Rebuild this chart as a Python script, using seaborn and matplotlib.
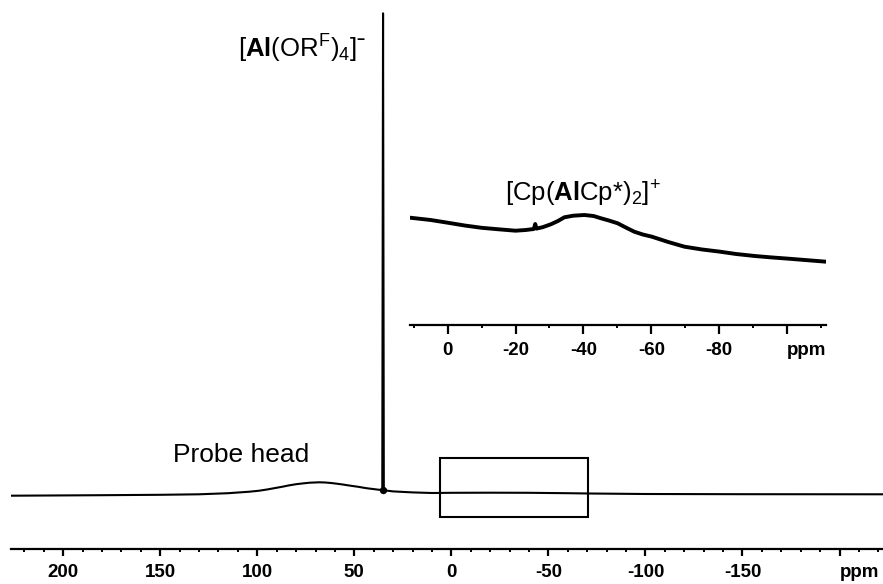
import matplotlib
matplotlib.use("Agg")
import matplotlib.pyplot as plt
import pandas as pd
import seaborn as sns
from matplotlib.patches import Rectangle

# 27Al NMR spectrum (ppm vs. intensity, arbitrary units)
main_ppm = [226.9, 180, 150, 130, 115, 104, 99, 95, 91, 87, 84, 80, 76, 73, 68, 65,
            62, 59, 56, 52, 48, 45, 43, 40, 38, 36, 35.6, 35.2, 34.8, 34.4, 30, 20,
            10, 0, -20, -40, -60, -71, -100, -150, -222.4]
main_intensity = [-1.7, -1.2, -0.8, -0.3, 0.8, 2.3, 3.3, 4.5, 5.9, 7.3, 8.5, 9.8, 10.7,
                  11.3, 11.7, 11.5, 11.0, 10.3, 9.5, 8.3, 7.2, 6.2, 5.6, 4.9, 4.4, 4.0,
                  3.9, 480.7, 3.8, 3.6, 2.6, 1.6, 1.0, 1.2, 1.3, 1.2, 0.8, 0.5, 0.0,
                  -0.2, -0.3]
peak_ppm = 35.2
peak_base = 3.8

# Expanded region around the cation signal
inset_ppm = [11.1, 5, 0, -5, -10, -15, -20, -23, -25.4, -25.8, -26.2, -28, -30.4,
             -32.5, -34.4, -37, -40.3, -43, -45.2, -47.5, -50.1, -52.5, -55, -57.5,
             -60.2, -65, -69.8, -75, -80.3, -85, -90.5, -95, -100.5, -106, -111.5]
inset_intensity = [107.3, 105.0, 102.3, 99.5, 97.2, 95.7, 94.3, 95.0, 96.0, 101.0,
                   96.4, 97.8, 100.7, 104.0, 107.7, 109.3, 110.0, 109.0, 106.7, 104.5,
                   101.7, 97.5, 93.3, 90.5, 88.3, 83.0, 78.3, 75.5, 73.3, 71.0, 69.0,
                   67.7, 66.3, 64.8, 63.3]

# Zoom window marked on the full spectrum
box_ppm = (5.9, -70.5)
box_intensity = (-23.3, 36.3)

main_ticks = [200, 150, 100, 50, 0, -50, -100, -150, -200]
main_tick_labels = ["200", "150", "100", "50", "0", "-50", "-100", "-150", "ppm"]
inset_ticks = [0, -20, -40, -60, -80, -100]
inset_tick_labels = ["0", "-20", "-40", "-60", "-80", "ppm"]

sns.set_style("white")
plt.rcParams["font.family"] = ["Liberation Sans", "DejaVu Sans"]
plt.rcParams["mathtext.fontset"] = "custom"
plt.rcParams["mathtext.rm"] = "Liberation Sans"
plt.rcParams["mathtext.bf"] = "Liberation Sans:bold"
plt.rcParams["mathtext.it"] = "Liberation Sans:italic"
plt.rcParams["axes.unicode_minus"] = False
plt.rcParams["text.color"] = "black"
plt.rcParams["xtick.color"] = "black"
plt.rcParams["xtick.labelcolor"] = "black"

fig = plt.figure(figsize=(8.83, 5.84), dpi=100)
ax = fig.add_axes([11 / 883, 1 - 549 / 584, 872 / 883, 549 / 584])
axin = fig.add_axes([410 / 883, 1 - 325 / 584, 416 / 883, 125 / 584])
axin.set_facecolor("none")


def style_axis(a, ticks, labels, major_len, label_size, pad):
    for side in ("top", "left", "right"):
        a.spines[side].set_visible(False)
    a.spines["bottom"].set_linewidth(1.6)
    a.spines["bottom"].set_color("black")
    a.set_yticks([])
    a.set_ylabel("")
    a.set_xlabel("")
    a.set_xticks(ticks)
    a.set_xticklabels(labels, fontsize=label_size, fontweight="bold", color="black")
    a.tick_params(axis="x", which="major", direction="out", length=major_len,
                  width=1.6, pad=pad, bottom=True, color="black")
    a.tick_params(axis="x", which="minor", direction="out", length=2.2,
                  width=1.4, bottom=True, color="black")
    for lab in a.get_xticklabels():
        if lab.get_text() == "ppm":
            lab.set_horizontalalignment("left")


# Full spectrum
main_df = pd.DataFrame({"ppm": main_ppm, "intensity": main_intensity})
sns.lineplot(data=main_df, x="ppm", y="intensity", ax=ax, color="black",
             linewidth=1.5, sort=False, estimator=None)
sns.scatterplot(x=[peak_ppm], y=[peak_base], ax=ax, color="black", s=28,
                edgecolor="black", linewidth=0, zorder=5)
ax.add_patch(Rectangle((box_ppm[1], box_intensity[0]), box_ppm[0] - box_ppm[1],
                       box_intensity[1] - box_intensity[0], fill=False,
                       edgecolor="black", linewidth=1.5, zorder=4))
ax.set_xlim(226.9, -222.4)
ax.set_ylim(-55, 494)
ax.xaxis.set_minor_locator(matplotlib.ticker.MultipleLocator(10))
style_axis(ax, main_ticks, main_tick_labels, 5.2, 13.5, 5.5)

ax.text(143.6, 32, "Probe head", fontsize=19, ha="left", va="baseline")
ax.text(43.6, 436.5, "[$\\mathbf{Al}$(OR$^{\\mathrm{F}}$)$_{4}$]\u02C9", fontsize=18.5,
        ha="right", va="baseline")

# Expanded view
inset_df = pd.DataFrame({"ppm": inset_ppm, "intensity": inset_intensity})
sns.lineplot(data=inset_df, x="ppm", y="intensity", ax=axin, color="black",
             linewidth=2.8, sort=False, estimator=None)
axin.set_xlim(11.1, -111.5)
axin.set_ylim(0, 125)
axin.xaxis.set_minor_locator(matplotlib.ticker.MultipleLocator(10))
style_axis(axin, inset_ticks, inset_tick_labels, 6.5, 13.5, 5.5)
axin.text(-39.9, 123, r"[Cp($\mathbf{Al}$Cp*)$_{2}$]$^{+}$", fontsize=18.5,
          ha="center", va="baseline")

fig.savefig("out.png", dpi=100)
